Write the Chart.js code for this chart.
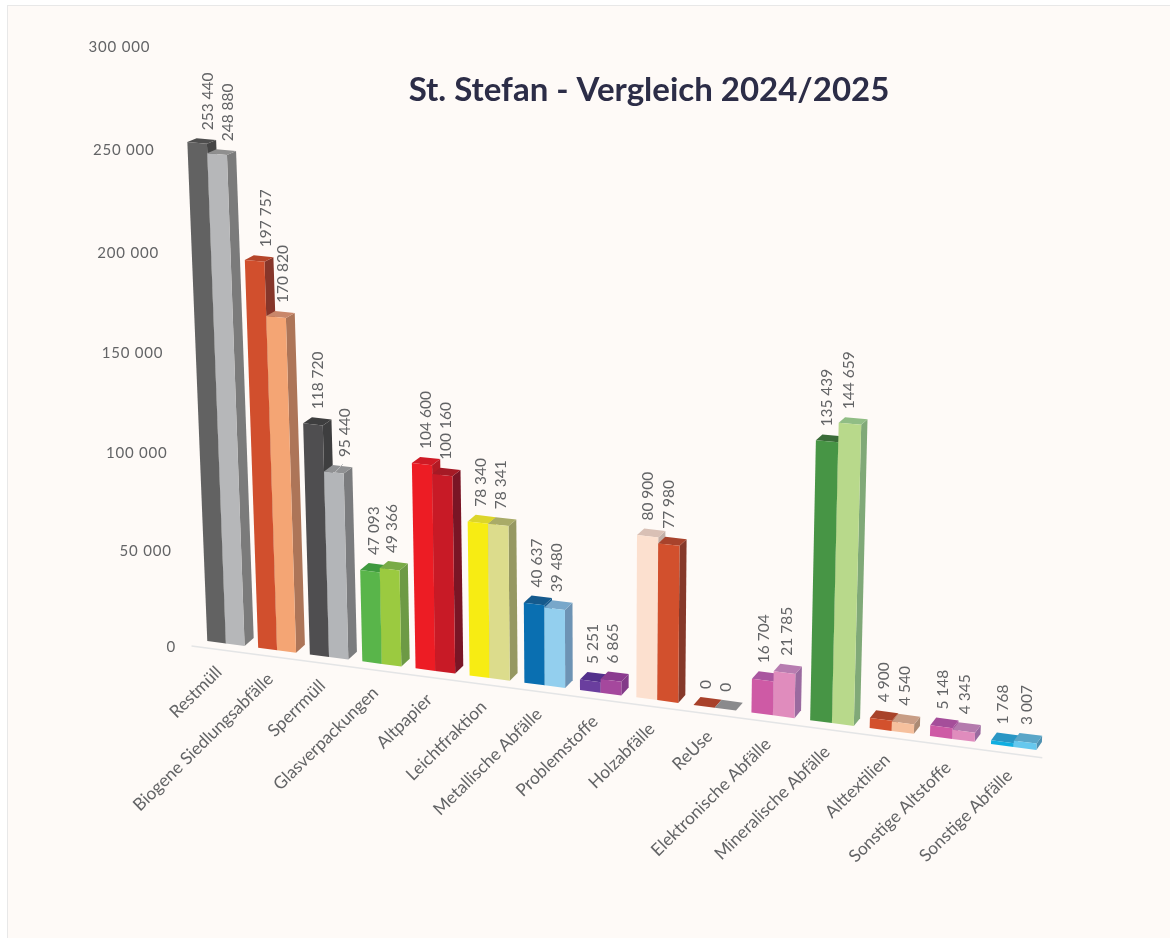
<!DOCTYPE html>
<html lang="de">
<head>
<meta charset="utf-8">
<title>St. Stefan - Vergleich 2024/2025</title>
<script src="https://cdn.jsdelivr.net/npm/chart.js@4/dist/chart.umd.js"></script>
<style>
html,body{margin:0;padding:0;background:#fff;width:1170px;height:938px;overflow:hidden}
#panel{position:absolute;left:7px;top:5px;right:0;bottom:0;background:#fefaf7;border-left:1.5px solid #e8e8e8;border-top:1.5px solid #e8e8e8}
canvas{position:absolute;left:0;top:0}
</style>
</head>
<body>
<div id="panel"></div>
<canvas id="c" width="1170" height="938"></canvas>
<script>
const categories = ["Restmüll","Biogene Siedlungsabfälle","Sperrmüll","Glasverpackungen","Altpapier","Leichtfraktion","Metallische Abfälle","Problemstoffe","Holzabfälle","ReUse","Elektronische Abfälle","Mineralische Abfälle","Alttextilien","Sonstige Altstoffe","Sonstige Abfälle"];
const values2024 = [253440,197757,118720,47093,104600,78340,40637,5251,80900,0,16704,135439,4900,5148,1768];
const values2025 = [248880,170820,95440,49366,100160,78341,39480,6865,77980,0,21785,144659,4540,4345,3007];

const frontA = ["#626262","#d14f2d","#4f4e50","#59b54a","#ed1c24","#f7ec13","#0a6fb1","#6a3e9e","#fce0cf","#a8412a","#ce5aa5","#479545","#d3512d","#ce5aa5","#10aee0"];
const topA   = ["#4e4e4e","#b5452a","#3e3e3f","#3f9a3f","#cf1a25","#dcd52a","#155a8d","#53308b","#d9c0b5","#a8412a","#a9569f","#3a6b38","#a8432a","#a54e9a","#2a96c4"];
const sideA  = ["#454545","#86362a","#3e3e3f","#3f9a3f","#b21a24","#bcb62a","#155a8d","#53308b","#c2b0a8","#a8412a","#a9569f","#3a6b38","#a8432a","#a54e9a","#2a96c4"];
const frontB = ["#b6b7b9","#f4a574","#b3b5b8","#9bca40","#c81a26","#dcdc8c","#93cfee","#a5489d","#d2502d","#8a8a8c","#e08cbd","#b8d98b","#f6c09d","#e08cbd","#66c8ee"];
const topB   = ["#8f8f8f","#c9876a","#909193","#79ab47","#a51a25","#a9ab68","#78a7ca","#8b3b8f","#a8432c","#8a8a8c","#b77cb0","#90bd85","#c89d85","#b47aad","#5aa6c8"];
const sideB  = ["#7b7b7b","#ad7558","#7b7c7e","#6d9a45","#7a1525","#969862","#6d93b4","#823a88","#86392a","#8a8a8c","#9a6a9f","#80a978","#ab8a73","#9a6a9f","#4f90b0"];

// small sideways nudges of the value labels, as placed by hand in the original
const labelNudgeA = [11,11,4.7,4,4,3,2.7,2.7,0.7,1.5,1.3,0,2.7,1.3,1];
const labelNudgeB = [11,6.7,11,2.7,4,2.7,2.8,1.8,0,1,2,-1,2,1,2];

const fmt = v => String(v).replace(/\B(?=(\d{3})+$)/g,' ');
const TEXT = '#636466';
const FONT = 'Lato, "Open Sans", sans-serif';

/* Perspective view: s, t are the fractions along the library's x and y scales. */
const gT = t => t/(1-0.0407*t);
function H(s,t){ return (570+30*s+30*s*s)*gT(t); }
function P(s,t){
  const h = H(s,t);
  const tilt = -0.0407+0.0825*s;
  return { x: 200.6+756*s+88*s*s + tilt*h, y: 640.1+99.4*s+11.5*s*s - h };
}
function back(p,s,t){ return { x:p.x+9.3-3.8*s, y:p.y-7.8+4.8*t }; }
function poly(ctx,pts,color){
  ctx.fillStyle=color; ctx.beginPath();
  pts.forEach((q,i)=> i?ctx.lineTo(q.x,q.y):ctx.moveTo(q.x,q.y));
  ctx.closePath(); ctx.fill();
}
function barGeom(el,chart){
  const a=chart.chartArea;
  const s0=(el.x-el.width/2-a.left)/a.width, s1=(el.x+el.width/2-a.left)/a.width;
  const t=(a.bottom-el.y)/a.height, tb=(a.bottom-el.base)/a.height;
  return {s0,s1,t,tb,
    fl:P(s0,tb),fr:P(s1,tb),tl:P(s0,t),tr:P(s1,t)};
}
function paintBar(el,ctx,chart,ds,i){
  const g=barGeom(el,chart);
  const btr=back(g.tr,g.s1,g.t), btl=back(g.tl,g.s0,g.t), bbr=back(g.fr,g.s1,g.tb);
  poly(ctx,[g.tr,btr,bbr,g.fr],ds.sideColors[i]);
  poly(ctx,[g.tl,g.tr,btr,btl],ds.topColors[i]);
  if(g.t>0) poly(ctx,[g.fl,g.fr,g.tr,g.tl],el.options.backgroundColor);
}
// Bars are painted by the plugin below, category by category, left bar first.
Chart.BarElement.prototype.draw=function(){};

const perspectivePlugin={
  id:'perspective',
  beforeDatasetsDraw(chart){
    const ctx=chart.ctx,a=P(-0.012,0),b=P(0.9975,0);
    ctx.save();ctx.strokeStyle='#e4e5e6';ctx.lineWidth=1.5;
    ctx.beginPath();ctx.moveTo(a.x,a.y+7);ctx.lineTo(b.x,b.y+7);ctx.stroke();
    categories.forEach((_,i)=>{
      chart.data.datasets.forEach((ds,di)=>{
        paintBar(chart.getDatasetMeta(di).data[i],ctx,chart,ds,i);
      });
    });
    ctx.restore();
  },
  afterDatasetsDraw(chart){
    const ctx=chart.ctx,area=chart.chartArea,xs=chart.scales.x,ys=chart.scales.y;
    ctx.save();
    // value axis labels
    ctx.fillStyle=TEXT;ctx.font='15px '+FONT;ctx.textAlign='right';ctx.textBaseline='middle';
    ctx.letterSpacing='0.8px';
    const p0=P(-0.0328,0);
    ys.ticks.forEach(tk=>{
      const t=(area.bottom-ys.getPixelForValue(tk.value))/area.height, p=P(-0.0328,t);
      ctx.fillText(tk.label,p.x,p.y+10.8-(p0.y-p.y)*0.0126);
    });
    ctx.letterSpacing='0px';
    // category labels
    ctx.font='17.3px '+FONT;
    xs.getLabels().forEach((lab,i)=>{
      const s=(xs.getPixelForTick(i)-area.left)/area.width, p=P(s,0);
      ctx.save();ctx.translate(p.x-7+3*s,p.y+26);ctx.rotate(-44.5*Math.PI/180);
      ctx.fillText(lab,0,0);ctx.restore();
    });
    // value labels
    ctx.font='15.5px '+FONT;ctx.textAlign='left';
    chart.data.datasets.forEach((ds,di)=>{
      chart.getDatasetMeta(di).data.forEach((el,i)=>{
        const g=barGeom(el,chart),bt=back(g.tl,g.s0,g.t);
        const cx=(g.tl.x+g.tr.x)/2+ds.labelNudge[i], ty=bt.y-8;
        ctx.save();ctx.translate(cx,ty);ctx.rotate(-Math.PI/2);
        ctx.fillText(fmt(ds.data[i]),0,0);ctx.restore();
        if(di===1 && categories[i]==='Sperrmüll'){
          ctx.strokeStyle='#b9babc';ctx.lineWidth=1;ctx.beginPath();
          ctx.moveTo((g.tl.x+g.tr.x)/2,g.tl.y+2);ctx.lineTo(cx-2,ty+7);ctx.stroke();
        }
      });
    });
    ctx.restore();
  }
};

new Chart(document.getElementById('c'),{
  type:'bar',
  data:{labels:categories,datasets:[
    {label:'2024',data:values2024,backgroundColor:frontA,topColors:topA,sideColors:sideA,labelNudge:labelNudgeA,categoryPercentage:0.735,barPercentage:1},
    {label:'2025',data:values2025,backgroundColor:frontB,topColors:topB,sideColors:sideB,labelNudge:labelNudgeB,categoryPercentage:0.735,barPercentage:1}
  ]},
  plugins:[perspectivePlugin],
  options:{
    responsive:false,animation:false,events:[],
    layout:{padding:{left:120,right:0,top:0,bottom:40}},
    plugins:{
      legend:{display:false},tooltip:{enabled:false},
      title:{display:true,text:'St. Stefan - Vergleich 2024/2025',fullSize:false,color:'#2c2d47',
        font:{family:FONT,size:33,weight:'bold'},padding:{top:71,bottom:10}}
    },
    scales:{
      x:{grid:{display:false},border:{display:false},ticks:{display:false,autoSkip:false}},
      y:{min:0,max:300000,grid:{display:false},border:{display:false},
         ticks:{display:false,stepSize:50000,callback:fmt}}
    }
  }
});
</script>
</body>
</html>
